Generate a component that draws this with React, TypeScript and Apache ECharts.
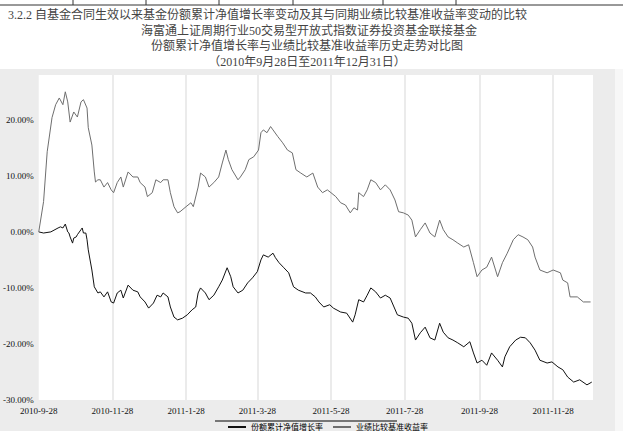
import React, { useEffect, useRef } from "react";
import * as echarts from "echarts";

// Axis range and tick labels
const startDate = "2010-09-28";
const endDate = "2011-12-31";
const tickLabels = ["2010-9-28", "2010-11-28", "2011-1-28", "2011-3-28", "2011-5-28", "2011-7-28", "2011-9-28", "2011-11-28"];
const yMin = -30;
const yMax = 28;
const yStep = 10;

const seriesNames = ["份额累计净值增长率", "业绩比较基准收益率"];

// Fund: sample points, days since 2010-09-28, values in %
const fundDays = [
  0, 4, 10, 16, 18, 20, 22, 24, 25, 26,
  28, 29, 31, 32, 35, 36, 37, 39, 40, 41,
  44, 46, 49, 51, 54, 57, 60, 62, 65, 68,
  70, 74, 78, 82, 84, 88, 91, 95, 98, 101,
  103, 107, 109, 112, 115, 119, 123, 127, 130, 132,
  134, 138, 141, 145, 149, 152, 156, 159, 161, 165,
  169, 173, 177, 181, 184, 186, 190, 194, 196, 199,
  203, 207, 211, 215, 221, 225, 229, 232, 236, 241,
  244, 250, 255, 260, 262, 265, 269, 272, 275, 279,
  283, 287, 291, 297, 302, 306, 309, 312, 316, 320,
  324, 328, 332, 335, 339, 343, 347, 352, 357, 360,
  363, 367, 371, 375, 380, 384, 386, 390, 395, 399,
  403, 407, 411, 415, 421, 425, 430, 434, 438, 443,
  448, 454, 458,
];
const fundValues = [
  0, -0.2, 0.0, 0.7, 0.9, 0.7, 1.4, 0.0, -0.2, -0.9,
  -2.0, -1.1, -0.9, -0.5, 0.4, 0.7, -0.2, -0.2, -1.4, -3.2,
  -6.8, -9.8, -10.9, -10.7, -11.6, -10.7, -12.5, -12.7, -10.9, -10.4,
  -11.8, -9.5, -10.4, -10.7, -11.6, -12.5, -13.6, -12.7, -11.3, -11.6,
  -10.9, -11.6, -13.4, -15.2, -15.7, -15.4, -14.8, -13.9, -13.4, -10.9,
  -10.0, -10.9, -12.1, -11.3, -9.8, -8.6, -6.4, -8.0, -9.8, -10.9,
  -10.4, -9.1, -8.2, -7.1, -5.0, -4.1, -4.5, -3.8, -4.6, -5.5,
  -6.4, -7.3, -9.8, -10.4, -10.9, -10.9, -11.6, -12.5, -13.4, -13.0,
  -13.6, -14.3, -14.5, -16.1, -14.8, -12.1, -12.5, -11.3, -10.0, -10.7,
  -11.8, -11.3, -11.8, -14.8, -15.2, -15.4, -16.3, -19.3, -18.0, -17.0,
  -18.9, -19.3, -16.3, -17.9, -18.9, -19.3, -19.8, -20.5, -19.6, -21.6,
  -23.4, -22.9, -23.8, -21.6, -22.9, -24.1, -22.3, -20.5, -19.3, -18.8,
  -18.9, -19.8, -21.1, -22.9, -23.4, -23.2, -24.1, -24.6, -25.9, -26.8,
  -26.4, -27.3, -26.8,
];

// Benchmark: sample points, days since 2010-09-28, values in %
const benchDays = [
  0, 4, 7, 11, 14, 17, 20, 22, 24, 26,
  29, 32, 35, 37, 40, 41, 44, 46, 47, 49,
  51, 54, 57, 60, 62, 65, 68, 70, 74, 78,
  82, 84, 88, 90, 94, 97, 101, 103, 107, 109,
  112, 115, 117, 122, 126, 128, 132, 134, 138, 141,
  145, 149, 152, 155, 157, 160, 165, 167, 171, 174,
  178, 182, 184, 186, 189, 192, 194, 198, 202, 206,
  210, 213, 217, 222, 227, 231, 235, 239, 242, 246,
  250, 254, 258, 261, 264, 265, 269, 272, 275, 279,
  283, 287, 291, 295, 298, 302, 306, 309, 312, 316,
  320, 324, 328, 332, 335, 339, 343, 347, 352, 356,
  360, 363, 367, 371, 375, 380, 384, 388, 393, 397,
  401, 405, 409, 411, 415, 421, 426, 432, 434, 438,
  440, 446, 451, 457,
];
const benchValues = [
  0, 5.4, 14.3, 20.4, 22.7, 23.9, 22.7, 25.0, 23.2, 19.6,
  21.4, 20.5, 23.2, 23.6, 22.1, 18.6, 15.5, 10.7, 8.9, 9.3,
  9.3, 8.0, 8.8, 7.5, 7.0, 8.8, 9.8, 8.0, 10.7, 9.8,
  9.8, 8.8, 8.0, 6.3, 7.0, 9.3, 8.8, 9.3, 9.3, 7.0,
  4.5, 3.4, 3.6, 4.5, 5.2, 4.5, 8.0, 10.5, 9.8, 8.0,
  8.8, 9.8, 12.3, 14.6, 12.9, 11.1, 9.3, 9.8, 11.1, 12.9,
  13.4, 14.6, 17.7, 18.2, 17.7, 18.8, 18.2, 17.0, 15.9, 14.6,
  14.1, 11.1, 10.5, 9.8, 10.5, 8.0, 7.0, 7.5, 7.0, 6.3,
  5.2, 4.8, 3.4, 4.3, 3.9, 7.0, 6.3, 7.5, 9.3, 8.8,
  7.5, 8.4, 7.5, 5.7, 3.6, 3.4, 3.0, 2.1, -0.9, 0.4,
  1.6, -0.2, -0.9, 2.1, 0.4, -0.9, -1.4, -2.0, -2.7, -2.3,
  -5.5, -8.0, -6.8, -6.3, -4.5, -8.0, -5.5, -3.8, -1.4, -0.5,
  -0.9, -1.4, -2.7, -4.5, -6.8, -7.3, -6.8, -7.3, -8.6, -9.1,
  -11.6, -11.6, -12.5, -12.5,
];

const titleLines = [
  "3.2.2 自基金合同生效以来基金份额累计净值增长率变动及其与同期业绩比较基准收益率变动的比较",
  "海富通上证周期行业50交易型开放式指数证券投资基金联接基金",
  "份额累计净值增长率与业绩比较基准收益率历史走势对比图",
  "（2010年9月28日至2011年12月31日）",
];

function buildCategories(): string[] {
  const out: string[] = [];
  const s = new Date(startDate + "T00:00:00Z");
  const e = new Date(endDate + "T00:00:00Z");
  for (let t = s.getTime(); t <= e.getTime(); t += 86400000) {
    const d = new Date(t);
    out.push(`${d.getUTCFullYear()}-${d.getUTCMonth() + 1}-${d.getUTCDate()}`);
  }
  return out;
}

const FONT = '"Liberation Serif", "Noto Sans CJK SC", serif';

export default function App() {
  const ref = useRef<HTMLDivElement>(null);
  useEffect(() => {
    if (!ref.current) return;
    const chart = echarts.init(ref.current, undefined, { renderer: "svg" });
    const categories = buildCategories();
    const tickSet = new Set(tickLabels);
    const option: any = {
      animation: false,
      backgroundColor: "#ececec",
      textStyle: { fontFamily: FONT },
      grid: { left: 38, right: 30, top: 75, bottom: 31, show: true, backgroundColor: "#ffffff", borderWidth: 0 },
      xAxis: {
        type: "category",
        data: categories,
        boundaryGap: false,
        axisLine: { show: false },
        axisTick: { show: false },
        axisLabel: {
          interval: (i: number, v: string) => tickSet.has(v),
          fontSize: 9,
          color: "#111",
          fontFamily: FONT,
          margin: 6,
        },
        splitLine: {
          show: true,
          interval: (i: number, v: string) => i > 0 && tickSet.has(v),
          lineStyle: { color: "#ebebeb", width: 2 },
        },
      },
      yAxis: {
        type: "value",
        min: yMin,
        max: yMax,
        interval: yStep,
        axisLine: { show: false },
        axisTick: { show: false },
        splitLine: { show: false },
        axisLabel: {
          formatter: (v: number) => (Math.abs(v % yStep) < 1e-6 ? v.toFixed(2) + "%" : ""),
          fontSize: 9,
          color: "#111",
          margin: 5,
          fontFamily: FONT,
        },
      },
      legend: {
        left: 228,
        top: 423,
        icon: "rect",
        itemWidth: 18,
        itemHeight: 2,
        itemGap: 10,
        padding: 0,
        textStyle: { fontSize: 8, lineHeight: 8, color: "#000", fontFamily: FONT },
        data: seriesNames,
      },
      series: [
        {
          name: seriesNames[0],
          type: "line",
          showSymbol: false,
          symbol: "none",
          lineStyle: { color: "#111", width: 1 },
          itemStyle: { color: "#111" },
          data: fundDays.map((d, i) => [d, fundValues[i]]),
        },
        {
          name: seriesNames[1],
          type: "line",
          showSymbol: false,
          symbol: "none",
          lineStyle: { color: "#6e6e6e", width: 1 },
          itemStyle: { color: "#6e6e6e" },
          data: benchDays.map((d, i) => [d, benchValues[i]]),
        },
      ],
      graphic: [
        { type: "rect", shape: { x: 0, y: 0, width: 623, height: 69 }, style: { fill: "#ffffff" } },
        { type: "rect", shape: { x: 615, y: 69, width: 8, height: 362 }, style: { fill: "#f7f7f7" } },
        { type: "line", shape: { x1: 0, y1: 5, x2: 623, y2: 5 }, style: { stroke: "#333", lineWidth: 1 } },
        ...[73, 146, 219, 293, 383, 456].map((x) => ({
          type: "line",
          shape: { x1: x, y1: 0, x2: x, y2: 5 },
          style: { stroke: "#333", lineWidth: 1 },
        })),
        {
          type: "text",
          x: 8,
          y: 15,
          style: { text: titleLines[0], font: `12px ${FONT}`, fill: "#444", align: "left", verticalAlign: "middle" },
        },
        {
          type: "text",
          x: 309,
          y: 31,
          style: { text: titleLines[1], font: `12px ${FONT}`, fill: "#444", align: "center", verticalAlign: "middle" },
        },
        {
          type: "text",
          x: 307,
          y: 46,
          style: { text: titleLines[2], font: `12px ${FONT}`, fill: "#444", align: "center", verticalAlign: "middle" },
        },
        {
          type: "text",
          x: 307,
          y: 62,
          style: { text: titleLines[3], font: `12px ${FONT}`, fill: "#444", align: "center", verticalAlign: "middle" },
        },
        { type: "line", shape: { x1: 215, y1: 421, x2: 397, y2: 421 }, style: { stroke: "#000", lineWidth: 1.2 } },
      ],
    };
    chart.setOption(option);
    return () => chart.dispose();
  }, []);
  return <div ref={ref} style={{ position: "fixed", left: 0, top: 0, width: 623, height: 431 }} />;
}
